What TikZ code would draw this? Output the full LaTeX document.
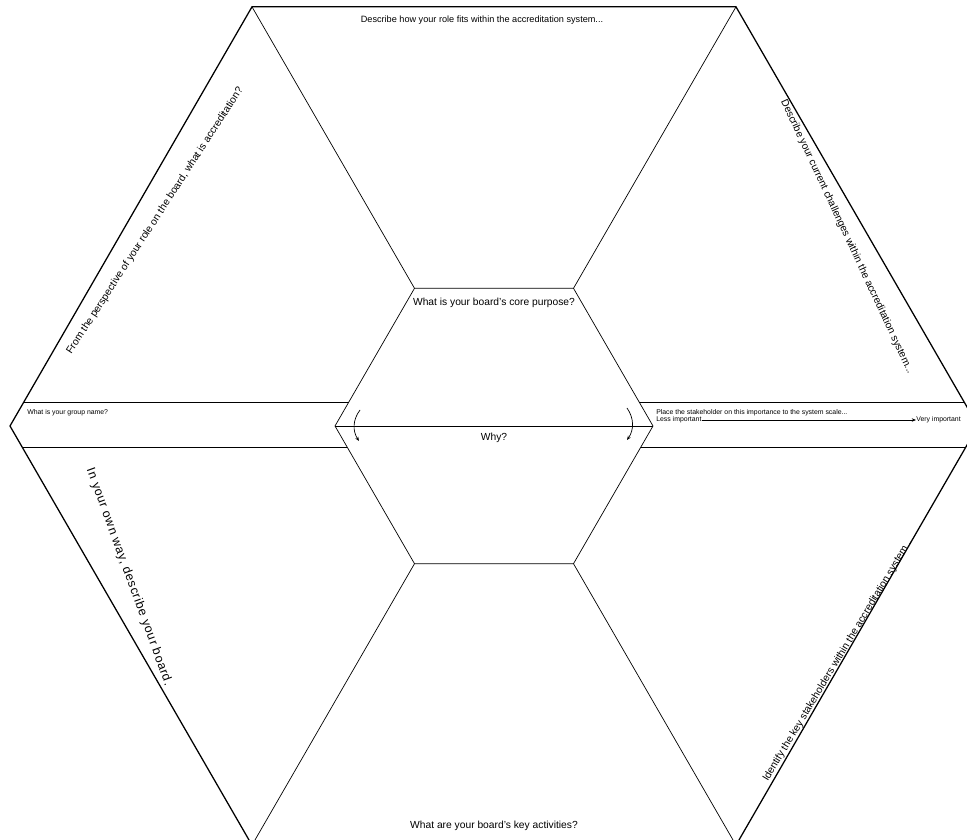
\documentclass[tikz,border=0pt]{standalone}
\usepackage{fontspec}
\setmainfont{Liberation Sans}
\usetikzlibrary{arrows.meta}

\tikzset{
  prompt/.style={font=\fontsize{7.3}{9}\selectfont, inner sep=0pt},
  toptext/.style={font=\fontsize{6.5}{8}\selectfont, inner sep=0pt},
  smalltext/.style={font=\fontsize{4.9}{6}\selectfont, inner sep=0pt},
  outer/.style={line width=0.9pt},
  inner/.style={line width=0.5pt},
  tip/.style={-{Stealth[length=3pt,width=2.4pt]}}
}

\begin{document}
\begin{tikzpicture}[x=0.025cm,y=0.025cm]
  \clip (-494,-414) rectangle (473,426);
  % outer hexagon
  \draw[outer] (0:484) -- (60:484) -- (120:484) -- (180:484) -- (240:484) -- (300:484) -- cycle;
  % inner hexagon
  \draw[inner] (0:159) -- (60:159) -- (120:159) -- (180:159) -- (240:159) -- (300:159) -- cycle;
  % spokes
  \draw[inner] (60:159) -- (60:484);
  \draw[inner] (120:159) -- (120:484);
  \draw[inner] (240:159) -- (240:484);
  \draw[inner] (300:159) -- (300:484);
  % band
  \draw[inner] (-470.1,24) -- (-145.1,24);
  \draw[inner] (-471.9,-21) -- (-146.9,-21);
  \draw[inner] (145.1,24) -- (470.1,24);
  \draw[inner] (146.9,-21) -- (471.9,-21);
  \draw[inner] (180:159) -- (0:159);

  \node[toptext] (role) at (-12,406) {Describe how your role fits within the accreditation system...};
  \node[prompt] (core) at (0,123) {What is your board's core purpose?};
  \node[prompt] (why) at (0,-12) {Why?};
  \node[prompt] (activities) at (0,-400) {What are your board's key activities?};

  \node[prompt, rotate=57] (what) at (-339,205) {From the perspective of your role on the board, what is accreditation?};
  \node[prompt, rotate=-65] (challenges) at (353,189) {Describe your current challenges within the accreditation system...};
  \node[prompt, rotate=-70, font=\fontsize{8.8}{10}\selectfont\addfontfeatures{LetterSpace=6}] (describe) at (-365,-151) {In your own way, describe your board.};
  \node[prompt, rotate=59] (stakeholders) at (344,-234) {Identify the key stakeholders within the accreditation system...};

  \node[smalltext, anchor=west] (group) at (-467,13) {What is your group name?};
  \node[smalltext, anchor=west] (place) at (162,13) {Place the stakeholder on this importance to the system scale...};
  \node[smalltext, anchor=west] (less) at (162,6) {Less important};
  \node[smalltext, anchor=west] (very) at (422,6) {Very important};
  \draw[tip, line width=0.6pt] (less.east) -- (very.west);

  \coordinate (la) at (-134,16);
  \coordinate (lb) at (-135,-15);
  \coordinate (ra) at (133,18);
  \coordinate (rb) at (133,-14);
  \draw[tip, inner] (la) to[bend right=35] (lb);
  \draw[tip, inner] (ra) to[bend left=35] (rb);
\end{tikzpicture}
\end{document}
